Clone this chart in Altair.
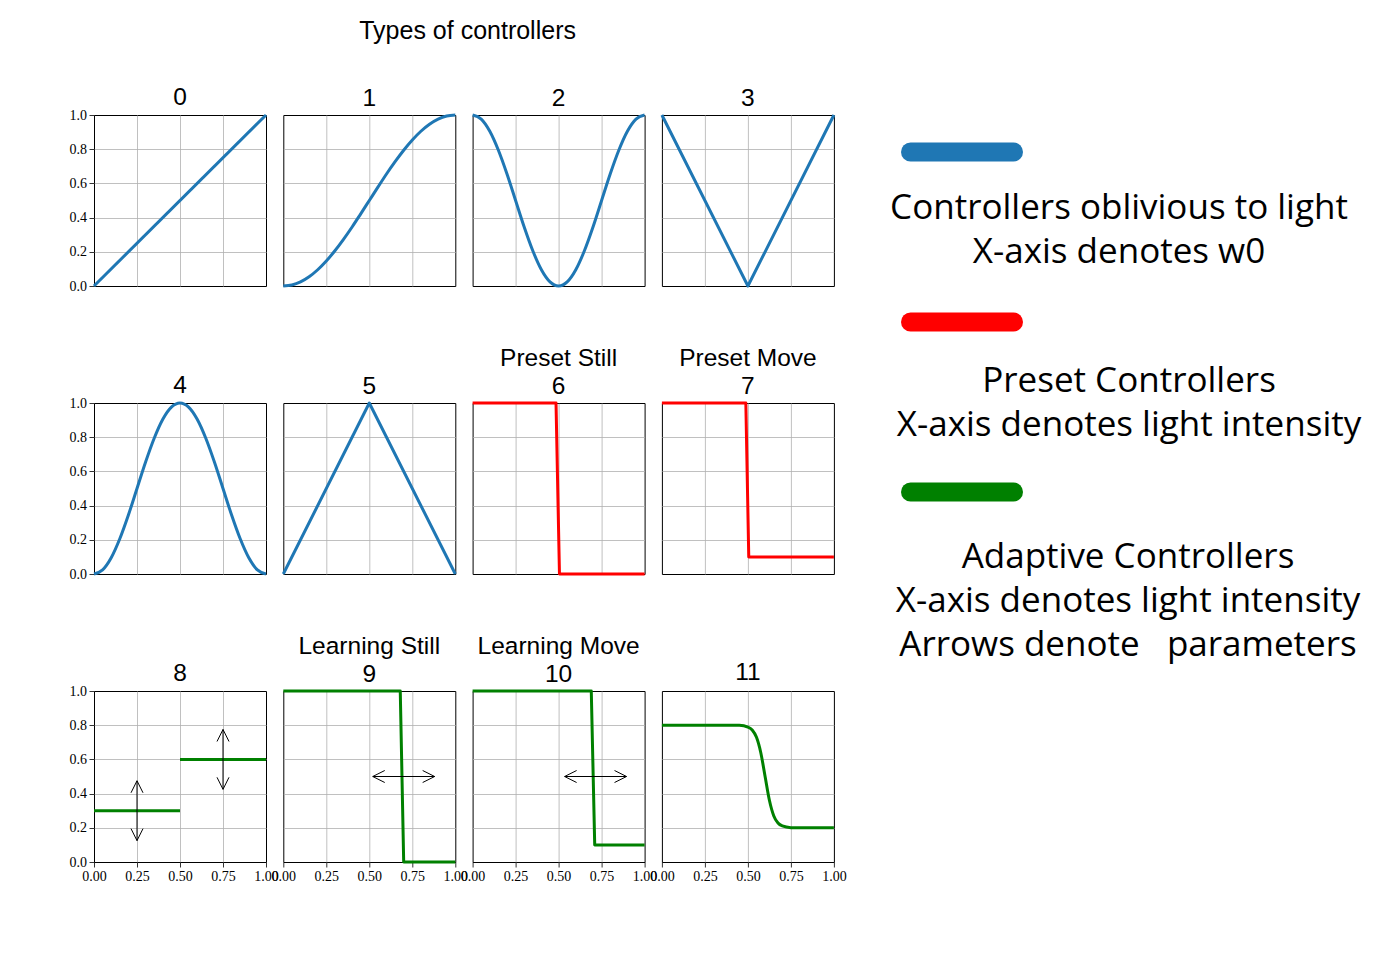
import altair as alt
import pandas as pd

# ---------------- data ----------------
PANEL_TITLES = [["0"], ["1"], ["2"], ["3"], ["4"], ["5"],
                ["Preset Still", "6"], ["Preset Move", "7"],
                ["8"], ["Learning Still", "9"], ["Learning Move", "10"], ["11"]]
PANEL_KIND = ["oblivious"] * 6 + ["preset"] * 2 + ["adaptive"] * 4
SMOOTH = [False, True, True, False, True, False, False, False, False, False, False, True]

X21 = [0.0, 0.05, 0.1, 0.15, 0.2, 0.25, 0.3, 0.35, 0.4, 0.45, 0.5,
       0.55, 0.6, 0.65, 0.7, 0.75, 0.8, 0.85, 0.9, 0.95, 1.0]

P0_X = [0.0, 1.0]
P0_Y = [0.0, 1.0]
P1_Y = [0.0, 0.006, 0.024, 0.054, 0.095, 0.146, 0.206, 0.273, 0.345, 0.422, 0.5,
        0.578, 0.655, 0.727, 0.794, 0.854, 0.905, 0.946, 0.976, 0.994, 1.0]
P2_Y = [1.0, 0.976, 0.905, 0.794, 0.655, 0.5, 0.345, 0.206, 0.095, 0.024, 0.0,
        0.024, 0.095, 0.206, 0.345, 0.5, 0.655, 0.794, 0.905, 0.976, 1.0]
P3_X = [0.0, 0.5, 1.0]
P3_Y = [1.0, 0.0, 1.0]
P4_Y = [0.0, 0.024, 0.095, 0.206, 0.345, 0.5, 0.655, 0.794, 0.905, 0.976, 1.0,
        0.976, 0.905, 0.794, 0.655, 0.5, 0.345, 0.206, 0.095, 0.024, 0.0]
P5_X = [0.0, 0.5, 1.0]
P5_Y = [0.0, 1.0, 0.0]
P6_X = [0.0, 0.485, 0.505, 1.0]
P6_Y = [1.0, 1.0, 0.0, 0.0]
P7_X = [0.0, 0.488, 0.505, 1.0]
P7_Y = [1.0, 1.0, 0.1, 0.1]
P8_SEG_A_X = [0.0, 0.5]
P8_SEG_A_Y = [0.3, 0.3]
P8_SEG_B_X = [0.5, 1.0]
P8_SEG_B_Y = [0.6, 0.6]
P9_X = [0.0, 0.68, 0.7, 1.0]
P9_Y = [1.0, 1.0, 0.0, 0.0]
P10_X = [0.0, 0.69, 0.71, 1.0]
P10_Y = [1.0, 1.0, 0.1, 0.1]
P11_X = [0.0, 0.1, 0.2, 0.3, 0.4, 0.45, 0.5, 0.525, 0.55, 0.575, 0.6,
         0.625, 0.65, 0.675, 0.7, 0.75, 0.8, 0.9, 1.0]
P11_Y = [0.8, 0.8, 0.8, 0.8, 0.8, 0.799, 0.789, 0.772, 0.729, 0.639, 0.5,
         0.361, 0.271, 0.228, 0.211, 0.201, 0.2, 0.2, 0.2]

# double-headed arrows: panel, start (x, y), end (x, y)
ARROW_PANEL = [8, 8, 9, 10]
ARROW_X1 = [0.25, 0.75, 0.52, 0.535]
ARROW_Y1 = [0.125, 0.425, 0.5, 0.5]
ARROW_X2 = [0.25, 0.75, 0.88, 0.895]
ARROW_Y2 = [0.475, 0.775, 0.5, 0.5]

X_TICKS = [0.0, 0.25, 0.5, 0.75, 1.0]
Y_TICKS = [0.0, 0.2, 0.4, 0.6, 0.8, 1.0]

KIND_COLORS = {"oblivious": "#1f77b4", "preset": "#ff0000", "adaptive": "#008000"}

LEGEND_KEYS = ["oblivious", "preset", "adaptive"]
LEGEND_COLORS = ["#1f77b4", "#ff0000", "#008000"]
LEGEND_TEXT = ["Controllers oblivious to light\nX-axis denotes w0",
               "Preset Controllers\nX-axis denotes light intensity",
               "Adaptive Controllers\nX-axis denotes light intensity\nArrows denote\u00a0\u00a0\u00a0parameters"]

# ---------------- tables ----------------
series = [
    (0, 0, P0_X, P0_Y), (1, 0, X21, P1_Y), (2, 0, X21, P2_Y), (3, 0, P3_X, P3_Y),
    (4, 0, X21, P4_Y), (5, 0, P5_X, P5_Y), (6, 0, P6_X, P6_Y), (7, 0, P7_X, P7_Y),
    (8, 0, P8_SEG_A_X, P8_SEG_A_Y), (8, 1, P8_SEG_B_X, P8_SEG_B_Y),
    (9, 0, P9_X, P9_Y), (10, 0, P10_X, P10_Y), (11, 0, P11_X, P11_Y),
]
rows = []
for p, s, xs, ys in series:
    for i, (xv, yv) in enumerate(zip(xs, ys)):
        rows.append({"panel": p, "seg": s, "order": i, "x": xv, "y": yv})
curves = pd.DataFrame(rows)

shafts = pd.DataFrame({"panel": ARROW_PANEL, "x": ARROW_X1, "y": ARROW_Y1,
                       "x2": ARROW_X2, "y2": ARROW_Y2})
head_rows = []
for p, x1, y1, x2, y2 in zip(ARROW_PANEL, ARROW_X1, ARROW_Y1, ARROW_X2, ARROW_Y2):
    if x1 == x2:
        head_rows.append({"panel": p, "x": x1, "y": y1, "dir": "down"})
        head_rows.append({"panel": p, "x": x2, "y": y2, "dir": "up"})
    else:
        head_rows.append({"panel": p, "x": x1, "y": y1, "dir": "left"})
        head_rows.append({"panel": p, "x": x2, "y": y2, "dir": "right"})
heads = pd.DataFrame(head_rows)

legend_df = pd.DataFrame({"entry": LEGEND_KEYS, "label": LEGEND_TEXT})

# ---------------- styling ----------------
W, H = 172, 171
TITLE_FONT = "Liberation Sans"
HEAD_DIRS = ["up", "down", "left", "right"]
HEAD_PATHS = ["M-0.5,1L0,0L0.5,1", "M-0.5,-1L0,0L0.5,-1",
              "M1,-0.5L0,0L1,0.5", "M-1,-0.5L0,0L-1,0.5"]
# keep the gray grid off the black frame edges
EDGE_GRID = {"condition": {"test": "datum.value <= 0 || datum.value >= 1", "value": 0},
             "value": 1}


def title_offset(i):
    if i % 4 == 0:
        return -2          # y-axis label "1.0" already pushes the title up
    if i == 11:
        return 6
    return 2               # curve touching the top edge pushes the title up


def panel(i):
    r, c = divmod(i, 4)
    if r == 2:
        xaxis = alt.Axis(values=X_TICKS, format=".2f", title=None, grid=True,
                         labelFlush=False, labelOverlap=False, domain=False,
                         gridOpacity=EDGE_GRID)
    else:
        xaxis = alt.Axis(values=X_TICKS, labels=False, ticks=False, domain=False,
                         title=None, grid=True, gridOpacity=EDGE_GRID)
    if c == 0:
        yaxis = alt.Axis(values=Y_TICKS, format=".1f", title=None, grid=True,
                         labelFlush=False, labelOverlap=False, domain=False,
                         gridOpacity=EDGE_GRID)
    else:
        yaxis = alt.Axis(values=Y_TICKS, labels=False, ticks=False, domain=False,
                         title=None, grid=True, gridOpacity=EDGE_GRID)
    xs = alt.Scale(domain=[0, 1], nice=False, zero=False)
    ys = alt.Scale(domain=[0, 1], nice=False, zero=False)

    line = alt.Chart(curves).transform_filter(alt.datum.panel == i).mark_line(
        strokeWidth=3, color=KIND_COLORS[PANEL_KIND[i]], strokeJoin="round",
        interpolate="monotone" if SMOOTH[i] else "linear",
    ).encode(
        x=alt.X("x:Q", scale=xs, axis=xaxis),
        y=alt.Y("y:Q", scale=ys, axis=yaxis),
        detail="seg:N",
        order="order:Q",
    )
    layers = [line]
    if i in ARROW_PANEL:
        shaft = alt.Chart(shafts).transform_filter(alt.datum.panel == i).mark_rule(
            color="black", strokeWidth=1
        ).encode(x=alt.X("x:Q", scale=xs, axis=xaxis), y=alt.Y("y:Q", scale=ys, axis=yaxis),
                 x2="x2:Q", y2="y2:Q")
        head = alt.Chart(heads).transform_filter(alt.datum.panel == i).mark_point(
            filled=False, stroke="black", strokeWidth=1, size=576, opacity=1
        ).encode(
            x=alt.X("x:Q", scale=xs, axis=xaxis), y=alt.Y("y:Q", scale=ys, axis=yaxis),
            shape=alt.Shape("dir:N", scale=alt.Scale(domain=HEAD_DIRS, range=HEAD_PATHS),
                            legend=None),
        )
        layers += [shaft, head]
    return alt.layer(*layers).properties(
        width=W, height=H,
        title=alt.TitleParams(PANEL_TITLES[i], fontSize=24.5, font=TITLE_FONT,
                              fontWeight="normal", lineHeight=28,
                              offset=title_offset(i), anchor="middle"),
    )


grid = alt.concat(*[panel(i) for i in range(12)], columns=4,
                  spacing={"row": 117, "column": 17.3}, bounds="flush").properties(
    title=alt.TitleParams("Types of controllers", fontSize=25, font=TITLE_FONT,
                          fontWeight="normal", anchor="middle", offset=40, dx=10)
)

LW, LH = 500, 414
ly = alt.Y("entry:N", scale=alt.Scale(type="point", domain=LEGEND_KEYS, padding=0.2176),
           axis=None)
leg_line = alt.Chart(legend_df).mark_rule(strokeWidth=19, strokeCap="round").encode(
    x=alt.value(40.5), x2=alt.value(143.5), y=ly,
    color=alt.Color("entry:N", scale=alt.Scale(domain=LEGEND_KEYS, range=LEGEND_COLORS),
                    legend=None),
)
TEXT_X = [249, 259, 258]
TEXT_DY = [67, 70, 76]
leg_texts = []
for k, key in enumerate(LEGEND_KEYS):
    leg_texts.append(
        alt.Chart(legend_df).transform_filter(alt.datum.entry == key).mark_text(
            font="Open Sans", fontSize=35, lineHeight=44, align="center",
            baseline="alphabetic", dy=TEXT_DY[k], lineBreak="\n", color="black",
        ).encode(x=alt.value(TEXT_X[k]), y=ly, text="label:N")
    )
legend = alt.layer(leg_line, *leg_texts).properties(
    width=LW, height=LH, view=alt.ViewBackground(stroke="transparent")
)

chart = alt.hconcat(grid, legend, spacing=22).properties(
    padding={"left": 68, "top": 19, "right": 5, "bottom": 5}
).configure_view(stroke="black", strokeWidth=1).configure_axis(
    labelFont="Liberation Serif", labelFontSize=14, labelColor="black",
    tickColor="black", tickWidth=0.8, tickSize=5, labelPadding=2.5,
    gridColor="#b0b0b0", gridWidth=0.8,
).configure_title(color="black")

chart.save("out.html", embed_options={"renderer": "svg", "actions": False})
